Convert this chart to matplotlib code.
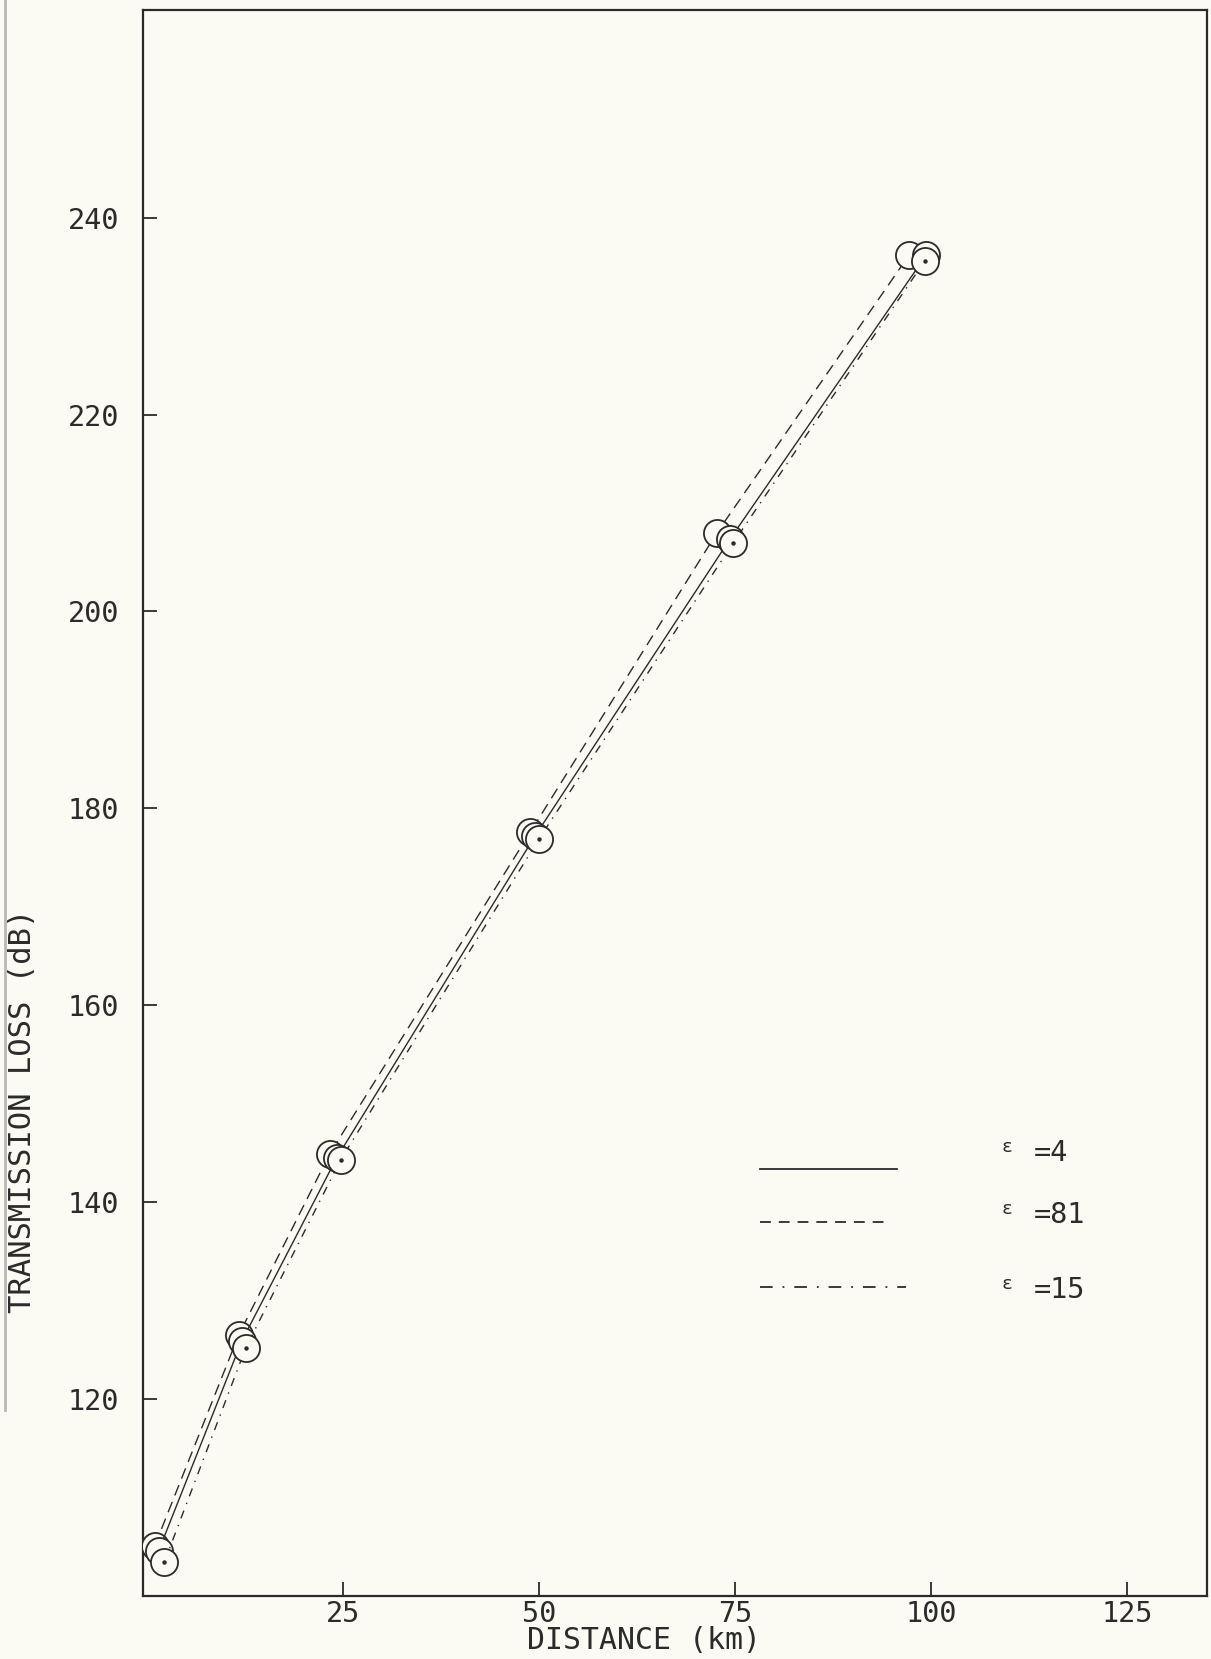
import matplotlib.pyplot as plt
from matplotlib.lines import Line2D

# distance (km) and transmission loss (dB), one pair per curve
dist_eps4 = [1.5, 12.1, 24.2, 49.5, 74.4, 99.4]
loss_eps4 = [104.6, 125.9, 144.5, 177.2, 207.4, 236.2]

dist_eps81 = [1.0, 11.7, 23.3, 48.9, 72.7, 97.2]
loss_eps81 = [105.1, 126.5, 144.9, 177.6, 208.0, 236.2]

dist_eps15 = [2.2, 12.6, 24.7, 50.0, 74.8, 99.2]
loss_eps15 = [103.4, 125.2, 144.3, 176.9, 207.0, 235.6]

x_ticks = [25, 50, 75, 100, 125]
y_ticks = [120, 140, 160, 180, 200, 220, 240]

legend_labels = ['=4', '=81', '=15']

bg = '#fbfbf3'
ink = '#2b2b2b'
font = 'DejaVu Sans Mono'

fig = plt.figure(figsize=(12.11, 16.59), dpi=100, facecolor=bg)
ax = fig.add_axes([0.1181, 0.0380, 0.8786, 0.9560], facecolor=bg)

dash = (0, (8, 5))
dashdot = (0, (6, 5, 1, 5))

curves = [
    (dist_eps81, loss_eps81, dash, 3),
    (dist_eps4, loss_eps4, '-', 4),
    (dist_eps15, loss_eps15, dashdot, 5),
]
for d, l, ls, z in curves:
    ax.plot(d, l, linestyle=ls, color=ink, lw=1.0, zorder=z - 1)
    ax.plot(d, l, linestyle='none', marker='o', markersize=19.5,
            markerfacecolor=bg, markeredgecolor=ink, markeredgewidth=1.3, zorder=z)

# centre punch on the top circle
ax.plot(dist_eps15, loss_eps15, linestyle='none', marker='o', markersize=2.2,
        color=ink, zorder=6)

ax.set_xlim(-0.5, 135.2)
ax.set_ylim(100, 261.1)
ax.set_xticks(x_ticks)
ax.set_yticks(y_ticks)
ax.tick_params(direction='in', length=10, width=1.3, color=ink, labelcolor=ink,
               labelsize=20.5)
ax.tick_params(axis='x', pad=3)
ax.tick_params(axis='y', pad=17)
for lab in ax.get_xticklabels() + ax.get_yticklabels():
    lab.set_family(font)

for sp in ax.spines.values():
    sp.set_linewidth(1.6)
    sp.set_color(ink)

ax.set_xlabel('DISTANCE (km)', family=font, fontsize=21.5, color=ink)
ax.xaxis.set_label_coords(0.471, -0.019)
ax.set_ylabel('TRANSMISSION LOSS (dB)', family=font, fontsize=22, color=ink)
ax.yaxis.set_label_coords(-0.100, 0.306)

# hand-drawn style key in the lower right
key_y = [0.269, 0.236, 0.195]
key_txt_y = [0.279, 0.240, 0.193]
key_end = [0.709, 0.699, 0.717]
key_styles = ['-', (0, (6, 4.4)), (0, (7, 5.5, 1, 5.5))]
for ky, ty, ke, ls, lab in zip(key_y, key_txt_y, key_end, key_styles, legend_labels):
    ax.plot([0.580, ke], [ky, ky], transform=ax.transAxes, linestyle=ls,
            color=ink, lw=1.3)
    ax.text(0.812, ty + 0.004, 'ε', transform=ax.transAxes, family=font,
            fontsize=13, color=ink, ha='center', va='center')
    ax.text(0.837, ty, lab, transform=ax.transAxes, family=font,
            fontsize=20.5, color=ink, ha='left', va='center')

# edge of the scanned page
fig.add_artist(Line2D([0.004, 0.004], [0.15, 1.0], transform=fig.transFigure,
                      color='#b8b8b8', lw=2))

fig.savefig('out.png', dpi=100, facecolor=bg)
